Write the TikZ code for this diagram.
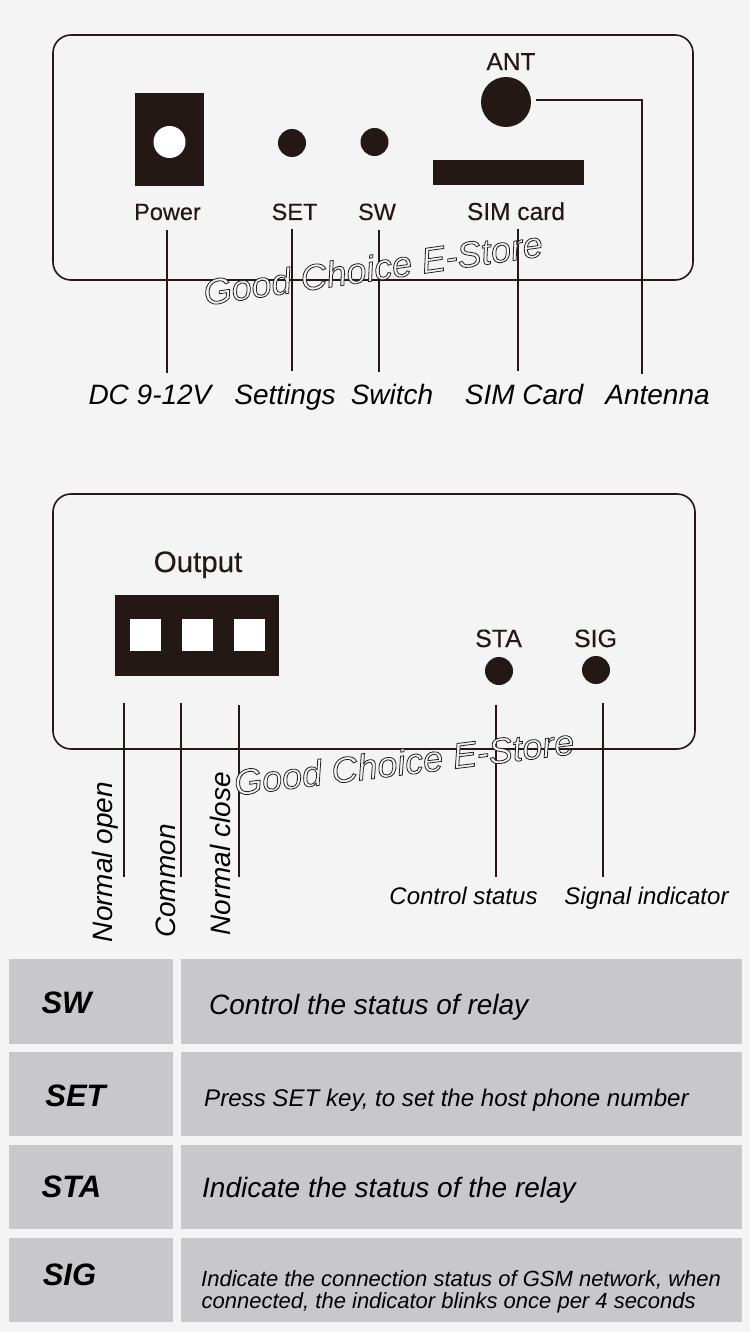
\documentclass[tikz,border=0pt]{standalone}
\usepackage{fontspec}
\setmainfont{Liberation Sans}
\newfontfamily\labf[FakeBold=0.3]{Liberation Sans}
\newcommand{\fs}[1]{\fontsize{#1}{#1}\selectfont}
\newcommand{\outl}[1]{\special{pdf:code q 2 Tr 0.8 w 0.13 0.13 0.13 RG 0.96 0.96 0.96 rg}#1\special{pdf:code Q}}
\definecolor{bgc}{HTML}{F4F4F4}
\definecolor{ink}{HTML}{231815}
\definecolor{cellc}{HTML}{C8C8CA}
\tikzset{
  x=1pt,y=-1pt,
  panel/.style={draw=ink,line width=1.6pt,rounded corners=18pt},
  solid part/.style={fill=ink,draw=none},
  hole/.style={fill=white,draw=none},
  lead/.style={draw=ink,line width=1.5pt},
  lab/.style={inner sep=0pt,anchor=base,text=ink},
  note/.style={inner sep=0pt,anchor=base,font=\fs{28}\itshape,text=black},
  noteS/.style={inner sep=0pt,anchor=base,font=\fs{24}\itshape,text=black},
  noteR/.style={inner sep=0pt,font=\fs{28}\itshape,text=black,rotate=90},
  cell/.style={fill=cellc,draw=none},
  key/.style={inner sep=0pt,font=\fs{31}\bfseries\itshape,text=black},
  desc/.style={inner sep=0pt,anchor=base west,text=black},
  wmark/.style={inner sep=0pt,font=\fs{36}\itshape}
}
\begin{document}
\begin{tikzpicture}
\path[use as bounding box,fill=bgc] (0,0) rectangle (750,1332);
% top panel
\draw[panel] (53,35) rectangle (693,280);
\fill[solid part] (135,93) rectangle (204,186);
\fill[hole] (169.5,142) circle[radius=16];
\node[solid part,circle,minimum size=28pt,inner sep=0pt] (setbtn) at (292,143) {};
\node[solid part,circle,minimum size=28pt,inner sep=0pt] (swbtn) at (374.5,142) {};
\fill[solid part] (433,160) rectangle (584,185);
\node[solid part,circle,minimum size=50pt,inner sep=0pt] (antc) at (506,102) {};
\node[lab,font=\labf\fs{23.5}] (lpower) at (167.5,220) {Power};
\node[lab,font=\labf\fs{23.5}] (lset) at (294.5,220) {SET};
\node[lab,font=\labf\fs{23.5}] (lsw) at (377,220) {SW};
\node[lab,font=\labf\fs{24.5}] (lsim) at (516,220) {SIM card};
\node[lab,font=\labf\fs{24.5}] (lant) at (511,70) {ANT};
\coordinate (p1) at (167,230); \coordinate (p2) at (167,373);
\coordinate (s1) at (292,229); \coordinate (s2) at (292,371);
\coordinate (w1) at (379,230); \coordinate (w2) at (379,372);
\coordinate (c1) at (518,229); \coordinate (c2) at (518,371);
\coordinate (a1) at (536,100); \coordinate (a2) at (642,100); \coordinate (a3) at (642,374);
\draw[lead] (p1) -- (p2);
\draw[lead] (s1) -- (s2);
\draw[lead] (w1) -- (w2);
\draw[lead] (c1) -- (c2);
\draw[lead] (a1) -- (a2) -- (a3);
\node[note] (n1) at (150,404) {DC 9-12V};
\node[note] (n2) at (285,404) {Settings};
\node[note] (n3) at (392,404) {Switch};
\node[note] (n4) at (524,404) {SIM Card};
\node[note] (n5) at (657.5,404) {Antenna};
\node[wmark,rotate=8.3] (wm1) at (373,268) {\outl{Good Choice E-Store}};
% bottom panel
\draw[panel] (53,494) rectangle (695,749);
\fill[solid part] (115,595) rectangle (279,676);
\fill[hole] (130,619) rectangle (161,651);
\fill[hole] (182,619) rectangle (213,651);
\fill[hole] (234,619) rectangle (265,651);
\node[lab,font=\labf\fs{29.5}] (lout) at (198,572) {Output};
\node[lab,font=\labf\fs{25}] (lsta) at (498.5,647) {STA};
\node[lab,font=\labf\fs{25}] (lsig) at (595.5,647) {SIG};
\node[solid part,circle,minimum size=28pt,inner sep=0pt] (stad) at (499,671) {};
\node[solid part,circle,minimum size=28pt,inner sep=0pt] (sigd) at (596,670) {};
\coordinate (o1) at (124,703); \coordinate (o2) at (124,877);
\coordinate (m1) at (181,703); \coordinate (m2) at (181,877);
\coordinate (k1) at (239,705); \coordinate (k2) at (239,877);
\coordinate (t1) at (496,705); \coordinate (t2) at (496,877);
\coordinate (g1) at (603,703); \coordinate (g2) at (603,877);
\draw[lead] (o1) -- (o2);
\draw[lead] (m1) -- (m2);
\draw[lead] (k1) -- (k2);
\draw[lead] (t1) -- (t2);
\draw[lead] (g1) -- (g2);
\node[noteR] (r1) at (105.5,862) {Normal open};
\node[noteR] (r2) at (165.5,881) {Common};
\node[noteR] (r3) at (220,854) {Normal close};
\node[noteS] (n6) at (463.5,904) {Control status};
\node[noteS] (n7) at (646.5,904) {Signal indicator};
\node[wmark,rotate=7] (wm2) at (404,762) {\outl{Good Choice E-Store}};
% table
\fill[cell] (9,959) rectangle (173,1044);
\fill[cell] (181,959) rectangle (742,1044);
\fill[cell] (9,1052) rectangle (173,1136);
\fill[cell] (181,1052) rectangle (742,1136);
\fill[cell] (9,1145) rectangle (173,1229);
\fill[cell] (181,1145) rectangle (742,1229);
\fill[cell] (9,1238) rectangle (173,1322);
\fill[cell] (181,1238) rectangle (742,1322);
\node[key] (k-sw) at (66.5,1003) {SW};
\node[key] (k-set) at (75.5,1096) {SET};
\node[key] (k-sta) at (71.5,1187) {STA};
\node[key] (k-sig) at (69.5,1275) {SIG};
\node[desc,font=\fs{28}\itshape] (d1) at (209,1014) {Control the status of relay};
\node[desc,font=\fs{24.1}\itshape] (d2) at (204,1106) {Press SET key, to set the host phone number};
\node[desc,font=\fs{28}\itshape] (d3) at (202,1197) {Indicate the status of the relay};
\node[desc,font=\fs{22}\itshape] (d4) at (201,1286) {Indicate the connection status of GSM network, when};
\node[desc,font=\fs{22}\itshape] (d5) at (201.5,1308) {connected, the indicator blinks once per 4 seconds};
\end{tikzpicture}
\end{document}
